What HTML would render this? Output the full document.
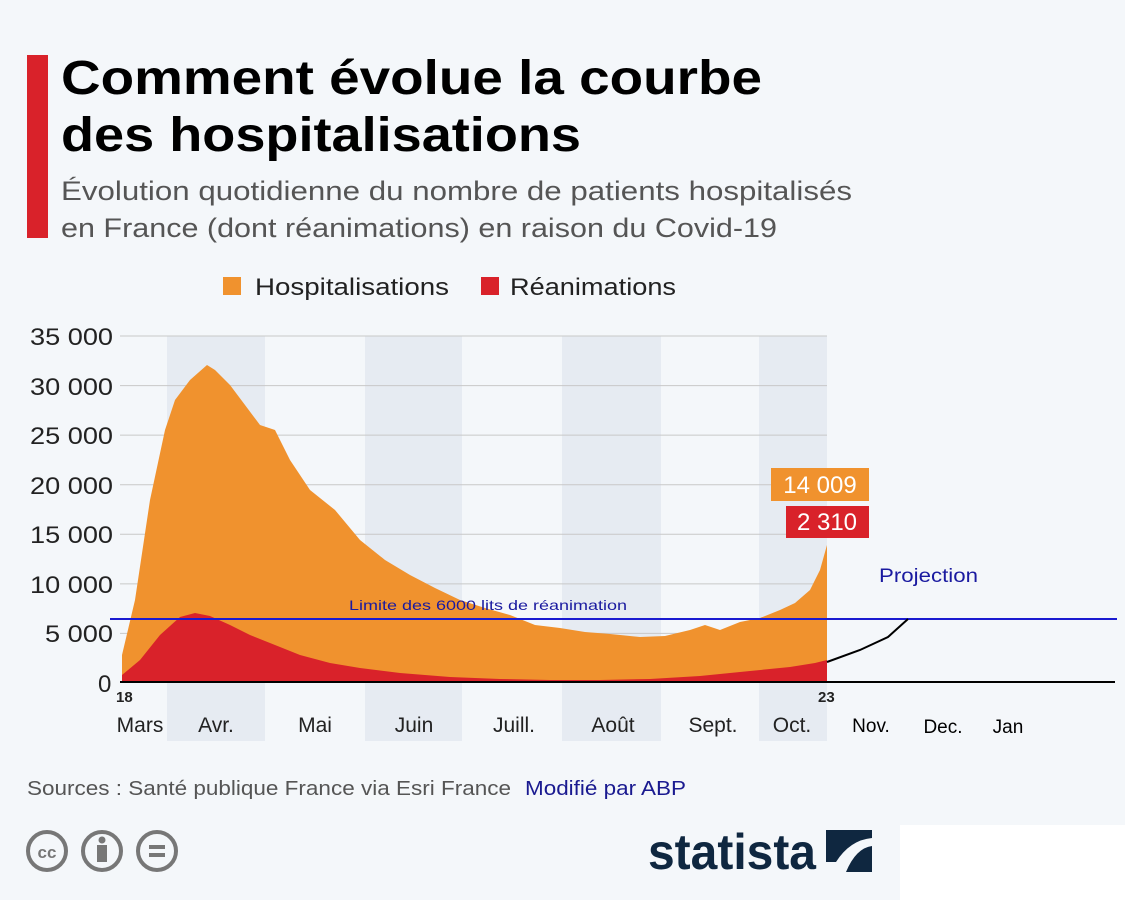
<!DOCTYPE html><html><head><meta charset="utf-8"><style>
body{margin:0;width:1125px;height:900px;background:#f4f7fa;font-family:"Liberation Sans","DejaVu Sans",sans-serif;position:relative;overflow:hidden}
.a{position:absolute;white-space:nowrap}
</style></head><body>
<div class="a" style="left:27px;top:55px;width:21px;height:183px;background:#d9222a"></div>
<svg class="a" style="left:0;top:0" width="1125" height="900">
<text x="61" y="94" font-size="48" font-weight="bold" fill="#000" textLength="701" lengthAdjust="spacingAndGlyphs">Comment évolue la courbe</text>
<text x="61" y="151" font-size="48" font-weight="bold" fill="#000" textLength="520" lengthAdjust="spacingAndGlyphs">des hospitalisations</text>
<text x="61" y="200" font-size="27" fill="#555" textLength="791" lengthAdjust="spacingAndGlyphs">Évolution quotidienne du nombre de patients hospitalisés</text>
<text x="61" y="237" font-size="27" fill="#555" textLength="716" lengthAdjust="spacingAndGlyphs">en France (dont réanimations) en raison du Covid-19</text>
<rect x="223" y="277" width="18" height="18" fill="#f0922e"/>
<text x="255" y="295" font-size="24" fill="#222" textLength="194" lengthAdjust="spacingAndGlyphs">Hospitalisations</text>
<rect x="481" y="277" width="18" height="18" fill="#d9222a"/>
<text x="510" y="295" font-size="24" fill="#222" textLength="166" lengthAdjust="spacingAndGlyphs">Réanimations</text>
<g fill="#e6ebf2"><rect x="167" y="336" width="98" height="405"/><rect x="365" y="336" width="97" height="405"/><rect x="562" y="336" width="99" height="405"/><rect x="759" y="336" width="68" height="405"/></g>
<g stroke="#c8c8c8" stroke-width="1"><line x1="120" x2="827" y1="336" y2="336"/><line x1="120" x2="827" y1="385.6" y2="385.6"/><line x1="120" x2="827" y1="435.1" y2="435.1"/><line x1="120" x2="827" y1="484.7" y2="484.7"/><line x1="120" x2="827" y1="534.3" y2="534.3"/><line x1="120" x2="827" y1="583.9" y2="583.9"/><line x1="120" x2="827" y1="633.4" y2="633.4"/></g>
<g font-size="24" fill="#222"><text x="30" y="345" textLength="83" lengthAdjust="spacingAndGlyphs">35 000</text><text x="30" y="395" textLength="83" lengthAdjust="spacingAndGlyphs">30 000</text><text x="30" y="444" textLength="83" lengthAdjust="spacingAndGlyphs">25 000</text><text x="30" y="494" textLength="83" lengthAdjust="spacingAndGlyphs">20 000</text><text x="30" y="543" textLength="83" lengthAdjust="spacingAndGlyphs">15 000</text><text x="30" y="593" textLength="83" lengthAdjust="spacingAndGlyphs">10 000</text><text x="45" y="642" textLength="68" lengthAdjust="spacingAndGlyphs">5 000</text><text x="98" y="692">0</text></g>
<path fill="#f0922e" d="M122,683 L122,655 L135,600 L150,500 L165,430 L175,400 L190,380 L207,365 L215,370 L230,385 L245,405 L260,425 L275,430 L290,460 L310,490 L335,510 L360,540 L385,560 L410,575 L435,588 L460,600 L485,608 L510,615 L535,625 L560,628 L585,632 L610,634 L640,637 L665,636 L690,630 L705,625 L720,630 L740,622 L760,618 L780,610 L795,603 L810,590 L820,570 L827,545 L827,683 Z"/>
<path fill="#d9222a" d="M122,683 L122,675 L140,660 L160,635 L180,617 L195,613 L210,616 L230,625 L250,635 L275,645 L300,655 L330,663 L360,668 L400,673 L450,677 L500,679 L550,680 L600,680 L650,679 L700,676 L750,671 L790,667 L815,663 L827,660 L827,683 Z"/>
<line x1="110" x2="1117" y1="619" y2="619" stroke="#1a1ad0" stroke-width="2"/>
<text x="349" y="610" font-size="14" fill="#1a1aa0" textLength="278" lengthAdjust="spacingAndGlyphs">Limite des 6000 lits de réanimation</text>
<path d="M827,662 L860,650 L888,637 L908,619" fill="none" stroke="#000" stroke-width="2"/>
<line x1="120" x2="1115" y1="682" y2="682" stroke="#000" stroke-width="2"/>
<text x="879" y="582" font-size="19" fill="#1a1aa0" textLength="99" lengthAdjust="spacingAndGlyphs">Projection</text>
<rect x="771" y="468" width="98" height="33" fill="#f0922e"/><text x="820" y="493" font-size="24" fill="#fff" text-anchor="middle">14 009</text>
<rect x="786" y="506" width="83" height="32" fill="#d9222a"/><text x="827" y="530" font-size="24" fill="#fff" text-anchor="middle">2 310</text>
<text x="116" y="702" font-size="15" font-weight="bold" fill="#222">18</text>
<text x="818" y="702" font-size="15" font-weight="bold" fill="#222">23</text>
<g font-size="21" fill="#222" text-anchor="middle"><text x="140" y="732">Mars</text><text x="216" y="732">Avr.</text><text x="315" y="732">Mai</text><text x="414" y="732">Juin</text><text x="514" y="732">Juill.</text><text x="613" y="732">Août</text><text x="713" y="732">Sept.</text><text x="792" y="732">Oct.</text><text x="871" y="732" font-size="19" fill="#000">Nov.</text><text x="943" y="733" font-size="19" fill="#000">Dec.</text><text x="1008" y="733" font-size="19" fill="#000">Jan</text></g>
<text x="27" y="795" font-size="20" fill="#555" textLength="484" lengthAdjust="spacingAndGlyphs">Sources : Santé publique France via Esri France</text>
<text x="525" y="795" font-size="20" fill="#1a1a90" textLength="161" lengthAdjust="spacingAndGlyphs">Modifié par ABP</text>
<g fill="none" stroke="#777" stroke-width="4"><circle cx="47" cy="851" r="19"/><circle cx="102" cy="851" r="19"/><circle cx="157" cy="851" r="19"/></g>
<text x="47" y="858" font-size="17" font-weight="bold" fill="#777" text-anchor="middle">cc</text>
<circle cx="102" cy="840" r="3.5" fill="#777"/><rect x="97" y="845" width="10" height="17" fill="#777"/>
<rect x="149" y="845" width="16" height="4" fill="#777"/><rect x="149" y="853" width="16" height="4" fill="#777"/>
<rect x="900" y="825" width="225" height="75" fill="#fff"/>
<text x="648" y="869" font-size="50" font-weight="bold" fill="#0f2740" textLength="168" lengthAdjust="spacingAndGlyphs">statista</text>
<rect x="826" y="830" width="46" height="42" fill="#0f2740"/>
<path d="M826,862 L836,862 Q850,840 872,838 L872,846 Q856,848 846,872 L826,872 Z" fill="#f4f7fa"/>
</svg>
</body></html>
